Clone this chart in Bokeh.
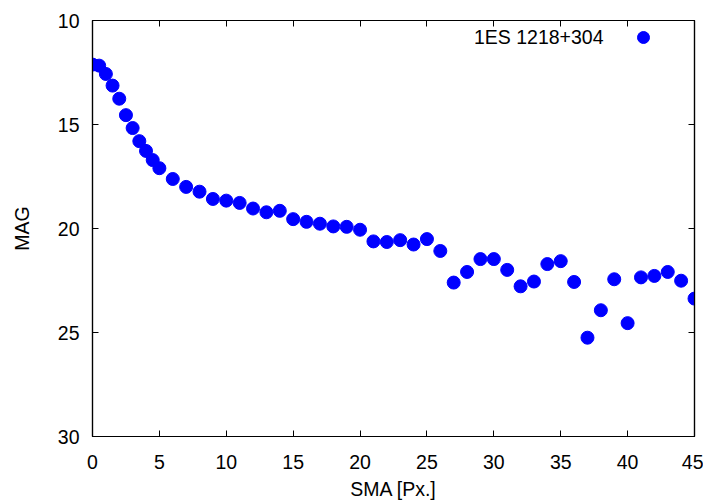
from bokeh.plotting import figure
from bokeh.models import Range1d, LinearAxis, FixedTicker, Label, Legend, LegendItem
from bokeh.embed import file_html
from bokeh.resources import INLINE

sma = [0, 0.5, 1, 1.5, 2, 2.5, 3, 3.5, 4, 4.5, 5,
       6, 7, 8, 9, 10, 11, 12, 13, 14, 15, 16, 17, 18, 19, 20,
       21, 22, 23, 24, 25, 26, 27, 28, 29, 30, 31, 32, 33, 34, 35,
       36, 37, 38, 39, 40, 41, 42, 43, 44, 45]
mag = [12.12, 12.17, 12.57, 13.13, 13.76, 14.55, 15.17, 15.80, 16.27, 16.71, 17.10,
       17.62, 18.00, 18.23, 18.58, 18.66, 18.77, 19.04, 19.22, 19.15, 19.55, 19.68, 19.77, 19.90, 19.92, 20.06,
       20.62, 20.65, 20.56, 20.77, 20.51, 21.08, 22.60, 22.09, 21.47, 21.47, 21.99, 22.78, 22.55, 21.71, 21.57,
       22.57, 25.25, 23.93, 22.44, 24.55, 22.35, 22.28, 22.09, 22.51, 23.37]
series_name = "1ES 1218+304"
x_ticks = [0, 5, 10, 15, 20, 25, 30, 35, 40, 45]
y_ticks = [10, 15, 20, 25, 30]

FONT = "Liberation Sans"
FS = "19.5px"

p = figure(width=703, height=502, output_backend="svg", toolbar_location=None,
           x_range=Range1d(0, 45), y_range=Range1d(30, 10),
           min_border_left=92, min_border_right=9, min_border_top=20, min_border_bottom=65)
p.grid.visible = False
p.outline_line_color = "black"
p.outline_line_width = 1.2

r = p.scatter(sma, mag, size=13, color="#0000ff", line_color="#0000ff")

def style(ax, ticks, labels=True):
    ax.ticker = FixedTicker(ticks=ticks)
    ax.axis_line_color = "black"
    ax.axis_line_width = 1.2
    ax.major_tick_in = 6
    ax.major_tick_out = 0
    ax.major_tick_line_color = "black"
    ax.minor_tick_line_color = None
    ax.major_label_text_font = FONT
    ax.major_label_text_font_size = FS
    ax.major_label_text_color = "black" if labels else None
    ax.axis_label_text_font = FONT
    ax.axis_label_text_font_size = FS
    ax.axis_label_text_font_style = "normal"
    ax.axis_label_text_color = "black"

xa = p.xaxis[0]
ya = p.yaxis[0]
style(xa, x_ticks)
style(ya, y_ticks)
xa.axis_label = "SMA [Px.]"
ya.axis_label = "MAG"
xa.major_label_standoff = 18
xa.axis_label_standoff = 6
ya.major_label_standoff = 13
ya.axis_label_standoff = 22

top = LinearAxis()
style(top, x_ticks, labels=False)
top.major_label_standoff = 0
p.add_layout(top, "above")
right = LinearAxis()
style(right, y_ticks, labels=False)
right.major_label_standoff = 0
p.add_layout(right, "right")

leg = Legend(items=[LegendItem(label=" ", renderers=[r])], location=(536, 384),
             margin=0, padding=0, border_line_alpha=0, background_fill_alpha=0,
             glyph_width=30, glyph_height=30, label_height=30, label_standoff=0,
             label_text_font_size="1px")
p.add_layout(leg, "center")

p.add_layout(Label(x=511, y=400, x_units="screen", y_units="screen",
                   text=series_name, text_align="right", text_baseline="middle",
                   text_font=FONT, text_font_size=FS, text_color="black"))

open("out.html", "w").write(file_html(p, INLINE))
